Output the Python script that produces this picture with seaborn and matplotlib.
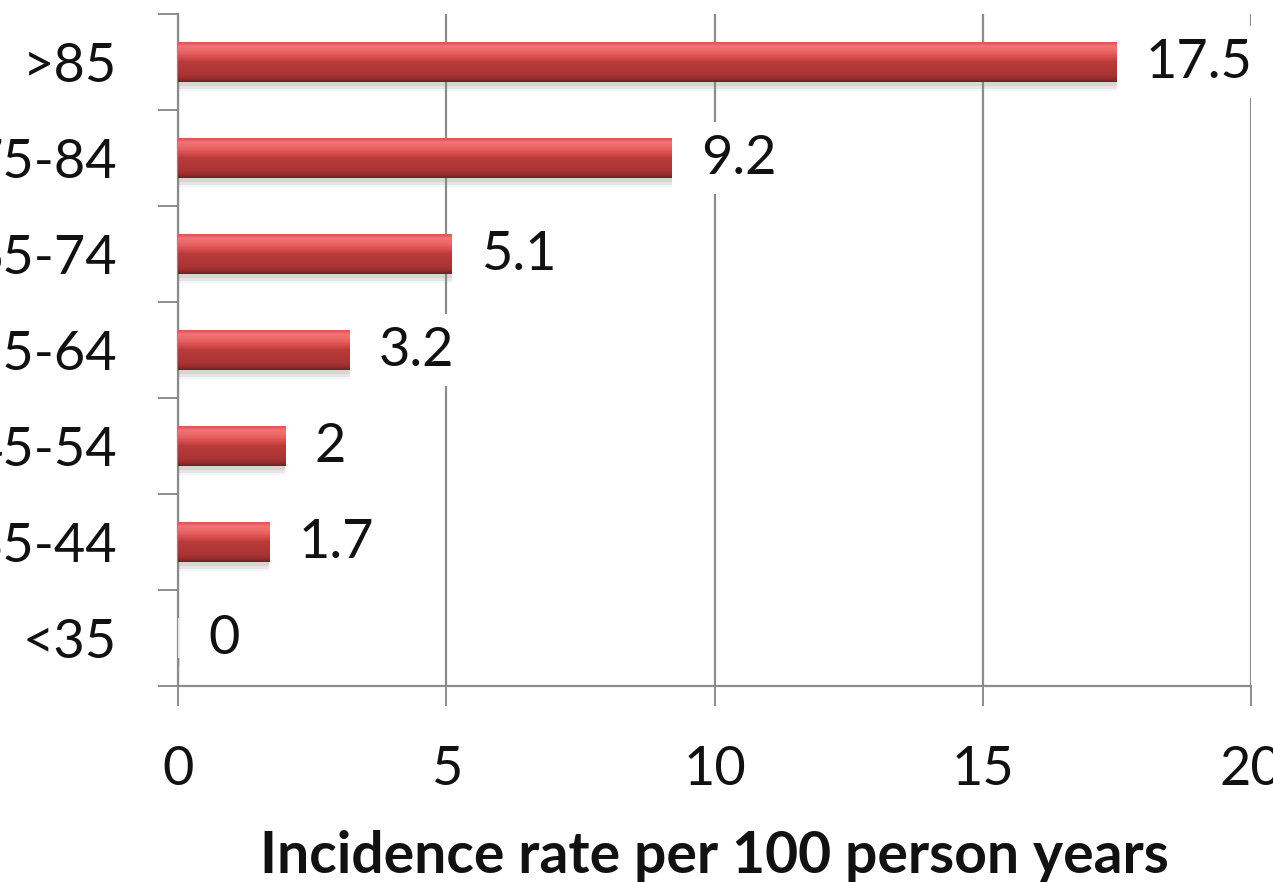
import numpy as np
import matplotlib
matplotlib.use("Agg")
import matplotlib.pyplot as plt
import matplotlib.patheffects as pe
from matplotlib.colors import LinearSegmentedColormap
from matplotlib.ticker import FixedLocator
import pandas as pd
import seaborn as sns

age_groups = [">85", "75-84", "65-74", "55-64", "45-54", "35-44", "<35"]
incidence = [17.5, 9.2, 5.1, 3.2, 2, 1.7, 0]
value_labels = ["17.5", "9.2", "5.1", "3.2", "2", "1.7", "0"]
x_ticks = [0, 5, 10, 15, 20]
x_label = "Incidence rate per 100 person years"

sns.set_theme(style="white")
plt.rcParams["font.family"] = ["Lato", "DejaVu Sans"]

df = pd.DataFrame({"age": age_groups, "rate": incidence})

W, H = 1273, 882
fig = plt.figure(figsize=(W / 100, H / 100), dpi=100)
ax = fig.add_axes([178 / W, 1 - 686 / H, (1251 - 178) / W, (686 - 14) / H])

grey = "#8c8c8c"
sns.barplot(data=df, x="rate", y="age", order=age_groups, color="#c03c3c",
            width=0.41, ax=ax, zorder=3, linewidth=0)

ax.set_xlim(0, 20)
ax.set_ylim(6.5, -0.5)

# glossy vertical gradient painted inside every bar, with a soft drop shadow
bar_cmap = LinearSegmentedColormap.from_list("gloss", [
    (0.0, "#dc5050"), (0.1, "#f27474"), (0.22, "#ec6a6a"), (0.42, "#d04646"),
    (0.5, "#b83b3b"), (0.8, "#ab3535"), (0.92, "#922c2c"), (1.0, "#6e2020")])
grad = np.linspace(0, 1, 256).reshape(-1, 1)
shadow = [pe.SimplePatchShadow(offset=(0, -o), shadow_rgbFace="#808080", alpha=a)
          for o, a in [(7, 0.08), (5, 0.12), (3, 0.15)]]
for patch in ax.patches:
    x0, y0 = patch.get_x(), patch.get_y()
    w, h = patch.get_width(), patch.get_height()
    patch.set_path_effects(shadow + [pe.Normal()])
    if w <= 0:
        patch.set_width(0.03)
        patch.set_facecolor("#e6e6e6")
        continue
    im = ax.imshow(grad, cmap=bar_cmap, aspect="auto", extent=[x0, x0 + w, y0 + h, y0],
                   zorder=4, interpolation="bicubic")
    im.set_clip_path(patch)
ax.set_xlim(0, 20)
ax.set_ylim(6.5, -0.5)

labels = ax.bar_label(ax.containers[0], labels=value_labels, padding=21,
                      fontsize=39, color="#111111", zorder=6)
for t in labels:
    t.set_bbox(dict(facecolor="white", edgecolor="none", pad=8))

# axes styling
ax.xaxis.set_major_locator(FixedLocator(x_ticks))
ax.set_xticklabels([str(v) for v in x_ticks])
ax.grid(axis="x", color=grey, linewidth=1.6, zorder=0)
ax.grid(axis="y", visible=False)
ax.set_axisbelow(True)
for side in ["top", "right"]:
    ax.spines[side].set_visible(False)
for side in ["left", "bottom"]:
    ax.spines[side].set_color(grey)
    ax.spines[side].set_linewidth(1.6)

ax.set_yticks(range(len(age_groups)))
ax.set_yticklabels(age_groups)
ax.yaxis.set_minor_locator(FixedLocator(np.arange(-0.5, len(age_groups), 1)))
ax.tick_params(axis="y", which="major", length=0, pad=44, labelsize=39, labelcolor="#111111")
ax.tick_params(axis="y", which="minor", length=14.5, width=1.4, color=grey, direction="out", left=True)
ax.tick_params(axis="x", which="major", length=14.5, width=1.4, color=grey, direction="out",
               bottom=True, pad=28, labelsize=39, labelcolor="#111111")

ax.set_ylabel("")
ax.set_xlabel(x_label, fontsize=41, fontweight="bold", color="#111111", labelpad=26)

fig.savefig("out.png", dpi=100, facecolor="white")
